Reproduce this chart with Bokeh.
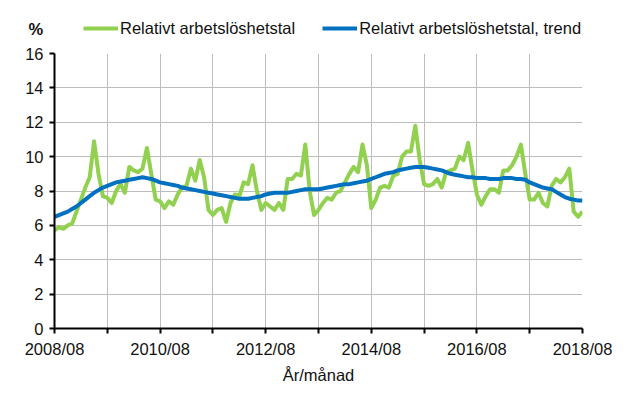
from bokeh.plotting import figure
from bokeh.layouts import column
from bokeh.models import Range1d, FixedTicker, Legend, LegendItem, Label
from bokeh.embed import file_html
from bokeh.resources import INLINE

# Monthly data, 2008/08 .. 2018/08 (121 months)
rate = [
    5.7, 5.9, 5.8, 6.0, 6.1, 6.8, 7.5, 8.2, 8.8, 10.9, 9.0, 7.7,
    7.6, 7.3, 8.0, 8.4, 7.9, 9.4, 9.2, 9.1, 9.3, 10.5, 9.0, 7.5,
    7.4, 7.0, 7.4, 7.2, 7.8, 8.2, 8.3, 9.3, 8.6, 9.8, 8.8, 6.9,
    6.6, 6.9, 7.0, 6.2, 7.3, 7.8, 7.7, 8.5, 8.4, 9.5, 8.0, 6.9,
    7.3, 7.1, 6.9, 7.3, 6.9, 8.7, 8.7, 9.0, 8.9, 10.7, 8.0, 6.6,
    6.9, 7.3, 7.6, 7.5, 7.9, 8.0, 8.5, 9.0, 9.4, 9.1, 10.7, 9.5,
    7.0, 7.5, 8.2, 8.3, 8.2, 8.9, 9.0, 10.0, 10.3, 10.3, 11.8, 9.8,
    8.4, 8.3, 8.4, 8.7, 8.2, 9.1, 9.2, 9.3, 10.0, 9.8, 10.8, 9.2,
    7.8, 7.2, 7.7, 8.1, 8.1, 7.9, 9.2, 9.2, 9.5, 10.0, 10.7, 9.0,
    7.5, 7.5, 7.9, 7.3, 7.1, 8.3, 8.7, 8.5, 8.8, 9.3, 6.8, 6.5, 6.8,
]
trend = [
    6.5, 6.6, 6.7, 6.8, 6.95, 7.1, 7.3, 7.5, 7.7, 7.9, 8.05, 8.2,
    8.3, 8.4, 8.5, 8.55, 8.6, 8.65, 8.7, 8.75, 8.8, 8.75, 8.7, 8.6,
    8.5, 8.45, 8.4, 8.35, 8.3, 8.2, 8.15, 8.1, 8.05, 8.0, 7.95, 7.9,
    7.85, 7.8, 7.75, 7.7, 7.65, 7.6, 7.55, 7.55, 7.55, 7.6, 7.65, 7.7,
    7.8, 7.85, 7.9, 7.9, 7.9, 7.9, 7.95, 8.0, 8.05, 8.1, 8.1, 8.1,
    8.1, 8.15, 8.2, 8.25, 8.3, 8.35, 8.4, 8.4, 8.45, 8.5, 8.55, 8.6,
    8.7, 8.8, 8.9, 9.0, 9.05, 9.1, 9.2, 9.25, 9.3, 9.35, 9.4, 9.4,
    9.4, 9.35, 9.3, 9.25, 9.2, 9.1, 9.0, 8.95, 8.9, 8.85, 8.8, 8.8,
    8.75, 8.75, 8.75, 8.7, 8.7, 8.7, 8.75, 8.75, 8.75, 8.7, 8.7, 8.65,
    8.5, 8.4, 8.3, 8.2, 8.15, 8.1, 7.95, 7.8, 7.65, 7.55, 7.5, 7.45, 7.45,
]
months = list(range(len(rate)))
tick_positions = [0, 12, 24, 36, 48, 60, 72, 84, 96, 108, 120]
tick_labels = ["2008/08", "", "2010/08", "", "2012/08", "", "2014/08", "", "2016/08", "", "2018/08"]
y_ticks = [0, 2, 4, 6, 8, 10, 12, 14, 16]
series_names = ["Relativt arbetslöshetstal", "Relativt arbetslöshetstal, trend"]
series_values = [rate, trend]
colors = ["#92d050", "#0070c0"]

FONT = "Liberation Sans"
FS = "16.5px"
TXT = "#111111"
W = 630

# ---- legend strip on top ----
top = figure(width=W, height=40, output_backend="svg", toolbar_location=None,
             x_range=Range1d(0, W), y_range=Range1d(0, 40),
             min_border_left=0, min_border_right=0, min_border_top=0, min_border_bottom=0,
             x_axis_type=None, y_axis_type=None)
top.frame_align = False
top.grid.visible = False
top.outline_line_color = None
lr = [top.line(months, vals, line_color=c, line_width=4, visible=False)
      for vals, c in zip(series_values, colors)]
legend = Legend(items=[LegendItem(label=n, renderers=[r]) for n, r in zip(series_names, lr)],
                orientation="horizontal", location=(83, 2),
                padding=0, margin=0, spacing=27, label_standoff=2,
                glyph_width=35, glyph_height=20, label_height=20,
                label_text_font=FONT, label_text_font_size=FS, label_text_color=TXT,
                background_fill_alpha=0, border_line_color=None,
                inactive_fill_alpha=0)
top.add_layout(legend, "center")
top.add_layout(Label(x=28, y=12, x_units="screen", y_units="screen", text="%",
                     text_font=FONT, text_font_size=FS, text_font_style="bold",
                     text_color=TXT, text_baseline="middle", text_align="left"))

# ---- main chart ----
p = figure(width=W, height=347, output_backend="svg", toolbar_location=None,
           x_range=Range1d(0, 120), y_range=Range1d(0, 16),
           min_border_left=54, min_border_right=W - 582, min_border_top=13, min_border_bottom=59)
p.frame_align = False
p.outline_line_color = None

p.xaxis.ticker = FixedTicker(ticks=tick_positions)
p.xaxis.major_label_overrides = {t: l for t, l in zip(tick_positions, tick_labels)}
p.yaxis.ticker = FixedTicker(ticks=y_ticks)
p.xgrid.ticker = FixedTicker(ticks=tick_positions)
p.ygrid.ticker = FixedTicker(ticks=y_ticks)
for g in (p.xgrid, p.ygrid):
    g.grid_line_color = "#bdbdbd"
    g.grid_line_width = 1

for ax in (p.xaxis, p.yaxis):
    ax.axis_line_color = "black"
    ax.axis_line_width = 2
    ax.major_tick_line_color = "black"
    ax.major_tick_line_width = 2
    ax.major_tick_out = 5
    ax.major_tick_in = 0
    ax.minor_tick_line_color = None
    ax.major_label_text_font = FONT
    ax.major_label_text_font_size = FS
    ax.major_label_text_color = TXT
p.xaxis.major_label_standoff = 6
p.yaxis.major_label_standoff = 6
p.xaxis.axis_label = "År/månad"
p.xaxis.axis_label_text_font = FONT
p.xaxis.axis_label_text_font_size = FS
p.xaxis.axis_label_text_font_style = "normal"
p.xaxis.axis_label_text_color = TXT
p.xaxis.axis_label_standoff = 5

for vals, c in zip(series_values, colors):
    p.line(months, vals, line_color=c, line_width=4, line_join="round")

layout = column(top, p, spacing=0)
open("out.html", "w").write(file_html(layout, INLINE))
